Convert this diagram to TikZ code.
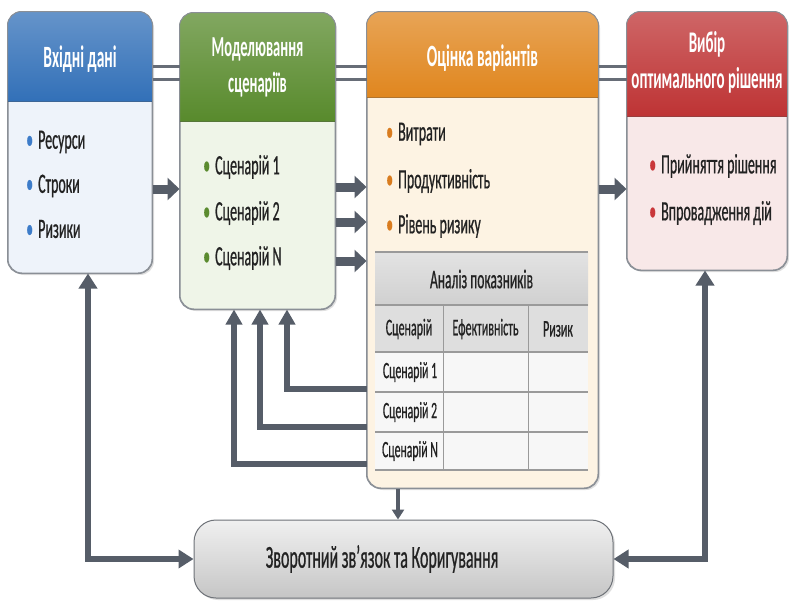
\documentclass[tikz,border=0pt]{standalone}
\usepackage{fontspec}
\setmainfont[FakeStretch=0.5]{Carlito}
\newfontfamily\itemfont[FakeStretch=0.5,FakeBold=0.6]{Carlito}
\usetikzlibrary{arrows.meta,calc,shadows}
\definecolor{arr}{HTML}{565D68}
\definecolor{bordr}{HTML}{8A8F96}
\definecolor{blueH}{HTML}{3270B8}
\definecolor{blueB}{HTML}{EEF3FA}
\definecolor{blueD}{HTML}{3D7CC9}
\definecolor{greenH}{HTML}{588A2C}
\definecolor{greenB}{HTML}{EFF5E8}
\definecolor{greenD}{HTML}{5B8B2F}
\definecolor{orH}{HTML}{E0861E}
\definecolor{orB}{HTML}{FDF3E3}
\definecolor{orD}{HTML}{D97C1F}
\definecolor{redH}{HTML}{BE3334}
\definecolor{redB}{HTML}{F8E8E8}
\definecolor{redD}{HTML}{C9373A}
\definecolor{txt}{HTML}{222222}
\definecolor{tabH}{HTML}{D0D0D0}
\definecolor{tabC}{HTML}{DEDEDE}
\definecolor{tabL}{HTML}{9A9A9A}
\tikzset{
  box/.style={draw=bordr, line width=1pt, rounded corners=14pt, inner sep=0pt,
    drop shadow={opacity=0.25, shadow xshift=2pt, shadow yshift=-2pt}},
  htext/.style={text=white, font=\fontsize{31}{33}\bfseries\selectfont, align=center},
  item/.style={anchor=west, text=txt, font=\itemfont\fontsize{28}{30}\selectfont, inner sep=0pt},
  ttext/.style={text=txt, font=\itemfont\fontsize{23.5}{25}\selectfont, inner sep=0pt},
  fat/.style={draw=arr, line width=9pt, -{Triangle[width=22pt,length=12pt]}},
  fb/.style={draw=arr, line width=6pt, -{Triangle[width=16pt,length=15pt]}},
  fbb/.style={draw=arr, line width=6pt, {Triangle[width=18pt,length=15pt]}-{Triangle[width=18pt,length=15pt]}},
  thin/.style={draw=arr, line width=4pt, -{Triangle[width=12pt,length=10pt]}},
  dbl/.style={draw=arr!90, line width=3pt},
}
\newcommand{\bul}[1]{\textcolor{#1}{\textbullet}\hspace{5pt}}
\begin{document}
\begin{tikzpicture}[x=1pt,y=-1pt]
\useasboundingbox (0,0) rectangle (789,600);
\fill[white] (0,0) rectangle (789,600);

% helper coordinates
\coordinate (l1) at (0,66);
\coordinate (l2) at (0,79);

% boxes
\node[box, fill=blueB, minimum width=144pt, minimum height=261pt] (b1) at (80,142.5) {};
\node[box, fill=greenB, minimum width=155pt, minimum height=296pt] (b2) at (257.5,161) {};
\node[box, fill=orB, minimum width=231pt, minimum height=476pt] (b3) at (482.5,250) {};
\node[box, fill=redB, minimum width=160pt, minimum height=258pt] (b4) at (707,141) {};

% headers
\fill[top color=blueH!75!white, bottom color=blueH] ($(b1.north west)+(0,90)$) [rounded corners=14pt] -- (b1.north west) -- (b1.north east) [sharp corners] -- ($(b1.north east)+(0,90)$) -- cycle;
\fill[top color=greenH!75!white, bottom color=greenH] ($(b2.north west)+(0,109)$) [rounded corners=14pt] -- (b2.north west) -- (b2.north east) [sharp corners] -- ($(b2.north east)+(0,109)$) -- cycle;
\fill[top color=orH!75!white, bottom color=orH] ($(b3.north west)+(0,86)$) [rounded corners=14pt] -- (b3.north west) -- (b3.north east) [sharp corners] -- ($(b3.north east)+(0,86)$) -- cycle;
\fill[top color=redH!75!white, bottom color=redH] ($(b4.north west)+(0,105)$) [rounded corners=14pt] -- (b4.north west) -- (b4.north east) [sharp corners] -- ($(b4.north east)+(0,105)$) -- cycle;
\foreach \b in {b1,b2,b3,b4}{
  \draw[bordr, line width=1pt, rounded corners=14pt] (\b.north west) rectangle (\b.south east);
}

\node[htext] (h1) at (80,59) {Вхідні дані};
\node[htext, font=\fontsize{29}{31}\bfseries\selectfont] (h2) at (257.5,67) {Моделювання\\[5pt]сценаріїв};
\node[htext] (h3) at (482.5,58) {Оцінка варіантів};
\node[htext, font=\fontsize{30}{31}\bfseries\selectfont] (h4) at (707,62) {Вибір\\[5pt]оптимального рішення};

% items
\node[item] (i11) at (26,142) {\bul{blueD}Ресурси};
\node[item] (i12) at (26,186) {\bul{blueD}Строки};
\node[item] (i13) at (26,229) {\bul{blueD}Ризики};
\node[item] (i21) at (203,167) {\bul{greenD}Сценарій 1};
\node[item] (i22) at (203,213) {\bul{greenD}Сценарій 2};
\node[item] (i23) at (203,258) {\bul{greenD}Сценарій N};
\node[item] (i31) at (386,134) {\bul{orD}Витрати};
\node[item] (i32) at (386,181) {\bul{orD}Продуктивність};
\node[item] (i33) at (386,226) {\bul{orD}Рівень ризику};
\node[item] (i41) at (649,166) {\bul{redD}Прийняття рішення};
\node[item] (i42) at (649,213) {\bul{redD}Впровадження дій};

% table
\fill[white!97!black] (375,352) rectangle (588,470);
\fill[top color=tabH!60!white, bottom color=tabH] (375,252) rectangle (588,305);
\fill[tabC] (375,305) rectangle (588,352);
\draw[tabL, line width=1.6pt] (375,252) -- (588,252);
\foreach \yy in {305,352,392,432,470}{\draw[tabL, line width=1.2pt] (375,\yy) -- (588,\yy);}
\draw[tabL, line width=1pt] (443,305) -- (443,470);
\draw[tabL, line width=1pt] (528,305) -- (528,470);
\node[ttext, font=\itemfont\fontsize{27}{29}\selectfont] (t0) at (481.5,279) {Аналіз показників};
\node[ttext, font=\itemfont\fontsize{24}{26}\selectfont] (t1) at (409,329) {Сценарій};
\node[ttext, font=\itemfont\fontsize{24}{26}\selectfont] (t2) at (485.5,329) {Ефективність};
\node[ttext, font=\itemfont\fontsize{24}{26}\selectfont] (t3) at (558,329) {Ризик};
\node[ttext] (t4) at (410,372) {Сценарій 1};
\node[ttext] (t5) at (410,412) {Сценарій 2};
\node[ttext] (t6) at (410,451) {Сценарій N};

% bottom box
\node[draw=bordr!80!black, line width=1pt, rounded corners=22pt, minimum width=419pt, minimum height=78pt,
  top color=gray!12, bottom color=gray!45, inner sep=0pt,
  drop shadow={opacity=0.25, shadow xshift=2pt, shadow yshift=-2pt}] (fbk) at (403.5,559) {};
\node[text=txt, font=\itemfont\fontsize{32}{34}\selectfont] (fbt) at (382,559) {Зворотний зв’язок та Коригування};

% double top lines
\draw[dbl] (b1.east |- l1) -- (b2.west |- l1);
\draw[dbl] (b1.east |- l2) -- (b2.west |- l2);
\draw[dbl] (b2.east |- l1) -- (b3.west |- l1);
\draw[dbl] (b2.east |- l2) -- (b3.west |- l2);
\draw[dbl] (b3.east |- l1) -- (b4.west |- l1);
\draw[dbl] (b3.east |- l2) -- (b4.west |- l2);

% forward arrows
\coordinate (a1) at (0,189);
\coordinate (a2) at (0,187);
\coordinate (a3) at (0,222);
\coordinate (a4) at (0,261);
\coordinate (a5) at (0,189);
\draw[fat] (b1.east |- a1) -- (b2.west |- a1);
\draw[fat] (b2.east |- a2) -- (b3.west |- a2);
\draw[fat] (b2.east |- a3) -- (b3.west |- a3);
\draw[fat] (b2.east |- a4) -- (b3.west |- a4);
\draw[fat] (b3.east |- a5) -- (b4.west |- a5);

% feedback from table rows
\coordinate (r1) at (0,389);
\coordinate (r2) at (0,427);
\coordinate (r3) at (0,464);
\coordinate (f1) at (287,0);
\coordinate (f2) at (260,0);
\coordinate (f3) at (234,0);
\draw[fb] (b3.west |- r1) -| (b2.south -| f1);
\draw[fb] (b3.west |- r2) -| (b2.south -| f2);
\draw[fb] (b3.west |- r3) -| (b2.south -| f3);

% outer loops
\coordinate (c1) at (88,0);
\coordinate (c2) at (705,0);
\coordinate (c3) at (398,0);
\draw[fbb] (b1.south -| c1) |- (fbk.west);
\draw[fbb] (b4.south -| c2) |- (fbk.east);
\draw[thin] (b3.south -| c3) -- (fbk.north -| c3);
\end{tikzpicture}
\end{document}
